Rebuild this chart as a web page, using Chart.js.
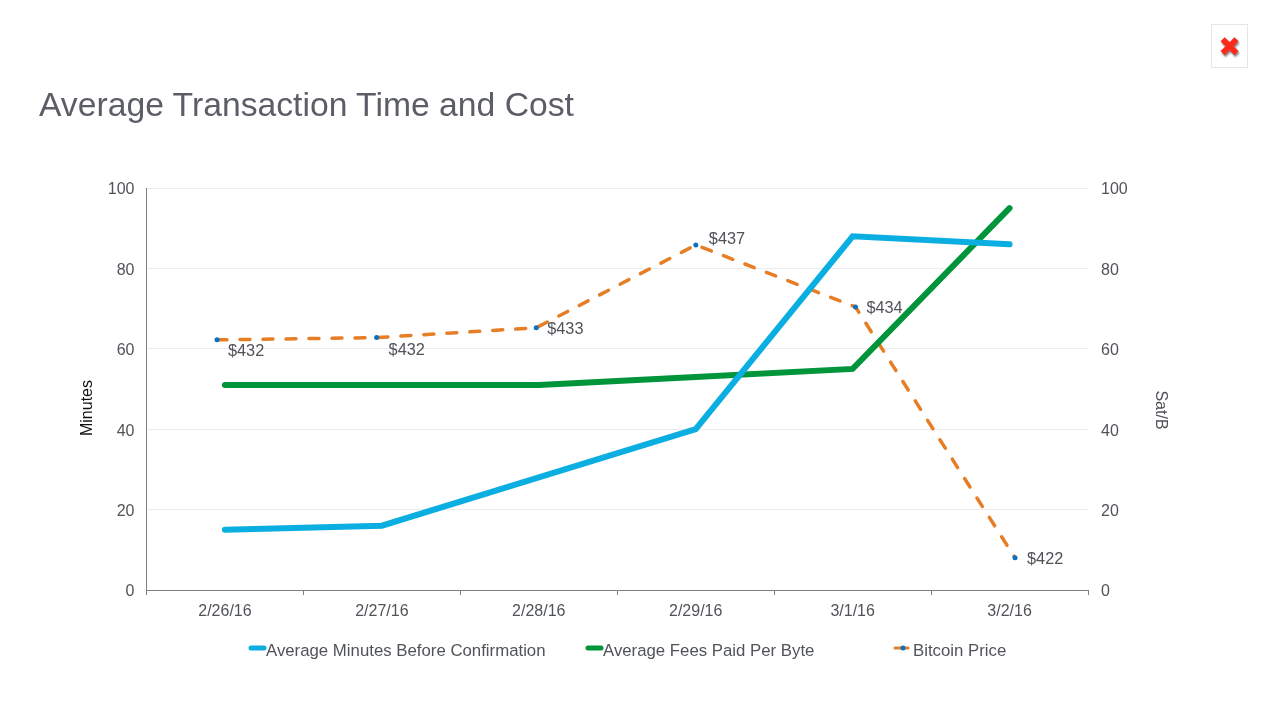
<!DOCTYPE html>
<html>
<head>
<meta charset="utf-8">
<title>Average Transaction Time and Cost</title>
<script src="https://cdn.jsdelivr.net/npm/chart.js@4"></script>
<style>
  html, body { margin: 0; padding: 0; background: #fff; width: 1280px; height: 720px; overflow: hidden; }
  #wrap { position: relative; width: 1280px; height: 720px; }
  #title { position: absolute; left: 39px; top: 83px; margin: 0; font: 300 33.7px "Liberation Sans", sans-serif; line-height: 42px; color: #5b5e66; white-space: nowrap; }
  #close { position: absolute; left: 1211px; top: 24px; width: 35px; height: 42px; border: 1px solid #e6e6e6; text-align: center; font: 27px/44px "DejaVu Sans", sans-serif; color: #fb2a1a; text-shadow: 1px 2px 2px #888; }
  canvas { position: absolute; left: 0; top: 0; }
</style>
</head>
<body>
<div id="wrap">
  <canvas id="chart" width="1280" height="720"></canvas>
  <h1 id="title">Average Transaction Time and Cost</h1>
  <div id="close">&#10006;</div>
</div>
<script>
// chart data
const dates = ['2/26/16', '2/27/16', '2/28/16', '2/29/16', '3/1/16', '3/2/16'];
const minutes = [15, 16, 28, 40, 88, 86];
const satPerByte = [51, 51, 51, 53, 55, 95];
const bitcoinPrice = [432.45, 432.56, 433.03, 437.0, 434.03, 422.0];
const yTicks = [0, 20, 40, 60, 80, 100];

const BLUE = '#0baee0', GREEN = '#00953b', ORANGE = '#e67e26', DOT = '#0a70c0';
const TEXT = '#505358';
const FONT = '"Liberation Sans", sans-serif';

// where each price label sits relative to its point
const labelShift = [[11, 12], [12, 13], [11, 2], [13, -5], [11, 2], [12, 2]];

const legendItems = [
  { dataset: 0, sampleX: 249, textX: 266 },
  { dataset: 1, sampleX: 586, textX: 603 },
  { dataset: 2, sampleX: 893, textX: 913 }
];

// price labels, axis titles and the bottom legend are drawn by hand,
// the titles sit lower than the axis middle and there is no datalabels plugin here
const extras = {
  id: 'extras',
  afterDatasetsDraw(chart) {
    const ctx = chart.ctx;
    const points = chart.getDatasetMeta(2).data;
    ctx.save();
    ctx.font = '16.3px ' + FONT;
    ctx.fillStyle = TEXT;
    ctx.textBaseline = 'middle';
    points.forEach((p, i) => {
      ctx.fillText('$' + Math.floor(bitcoinPrice[i]), p.x + labelShift[i][0], p.y + labelShift[i][1]);
    });

    ctx.font = '16.8px ' + FONT;
    legendItems.forEach(item => {
      const ds = chart.data.datasets[item.dataset];
      ctx.beginPath();
      ctx.lineCap = 'round';
      ctx.strokeStyle = ds.borderColor;
      ctx.lineWidth = item.dataset === 2 ? 3 : 5;
      ctx.moveTo(item.sampleX + 2, 648);
      ctx.lineTo(item.sampleX + 15, 648);
      ctx.stroke();
      if (item.dataset === 2) {
        ctx.beginPath();
        ctx.fillStyle = DOT;
        ctx.arc(item.sampleX + 10, 648, 2.5, 0, Math.PI * 2);
        ctx.fill();
      }
      ctx.fillStyle = TEXT;
      ctx.fillText(ds.label, item.textX, 651);
    });

    ctx.font = '16px ' + FONT;
    ctx.textAlign = 'center';
    ctx.save();
    ctx.translate(88, 408);
    ctx.rotate(-Math.PI / 2);
    ctx.fillStyle = '#111111';
    ctx.fillText('Minutes', 0, 0);
    ctx.restore();
    ctx.translate(1160, 410);
    ctx.rotate(Math.PI / 2);
    ctx.fillStyle = TEXT;
    ctx.fillText('Sat/B', 0, 0);
    ctx.restore();
  }
};

const yAxis = (position, boxWidth, showGrid, gap) => ({
  type: 'linear',
  position: position,
  min: 0,
  max: 100,
  afterBuildTicks: axis => { axis.ticks = yTicks.map(v => ({ value: v })); },
  afterFit: axis => { axis.width = boxWidth; },
  border: { display: position === 'left', color: '#7d7f84', width: 1 },
  grid: { display: showGrid, color: '#ececee', lineWidth: 1, drawTicks: false },
  ticks: { color: TEXT, font: { family: FONT, size: 16 }, padding: gap, labelOffset: 2 }
});

new Chart(document.getElementById('chart').getContext('2d'), {
  type: 'line',
  data: {
    labels: dates,
    datasets: [
      {
        label: 'Average Minutes Before Confirmation',
        data: minutes,
        xAxisID: 'x',
        yAxisID: 'y',
        borderColor: BLUE,
        backgroundColor: BLUE,
        borderWidth: 6,
        borderCapStyle: 'round',
        pointRadius: 0,
        tension: 0
      },
      {
        label: 'Average Fees Paid Per Byte',
        data: satPerByte,
        xAxisID: 'x',
        yAxisID: 'y2',
        borderColor: GREEN,
        backgroundColor: GREEN,
        borderWidth: 6,
        borderCapStyle: 'round',
        pointRadius: 0,
        tension: 0
      },
      {
        label: 'Bitcoin Price',
        data: bitcoinPrice.map((v, i) => ({ x: i, y: v })),
        xAxisID: 'xPrice',
        yAxisID: 'yPrice',
        parsing: false,
        borderColor: ORANGE,
        borderWidth: 3.5,
        borderCapStyle: 'round',
        borderDash: [10, 13],
        pointRadius: 2.5,
        pointBorderWidth: 0,
        pointBackgroundColor: DOT,
        tension: 0
      }
    ]
  },
  options: {
    responsive: false,
    animation: false,
    layout: { padding: { top: 188, left: 0, right: 0, bottom: 0 } },
    plugins: { legend: { display: false }, tooltip: { enabled: false } },
    scales: {
      x: {
        type: 'category',
        offset: true,
        afterFit: axis => { axis.height = 130; },
        border: { color: '#7d7f84', width: 1 },
        grid: { offset: true, drawOnChartArea: false, drawTicks: true, tickLength: 5, color: '#7d7f84' },
        ticks: { color: TEXT, font: { family: FONT, size: 16 }, padding: 7, maxRotation: 0 }
      },
      // the price series sits on its own hidden axes, its points are spaced a little wider than the dates
      xPrice: { type: 'linear', display: false, min: -0.4417, max: 5.457 },
      yPrice: { type: 'linear', display: false, min: 420.46, max: 439.73 },
      y: yAxis('left', 146.5, true, 12),
      y2: yAxis('right', 192, false, 13)
    }
  },
  plugins: [extras]
});
</script>
</body>
</html>
